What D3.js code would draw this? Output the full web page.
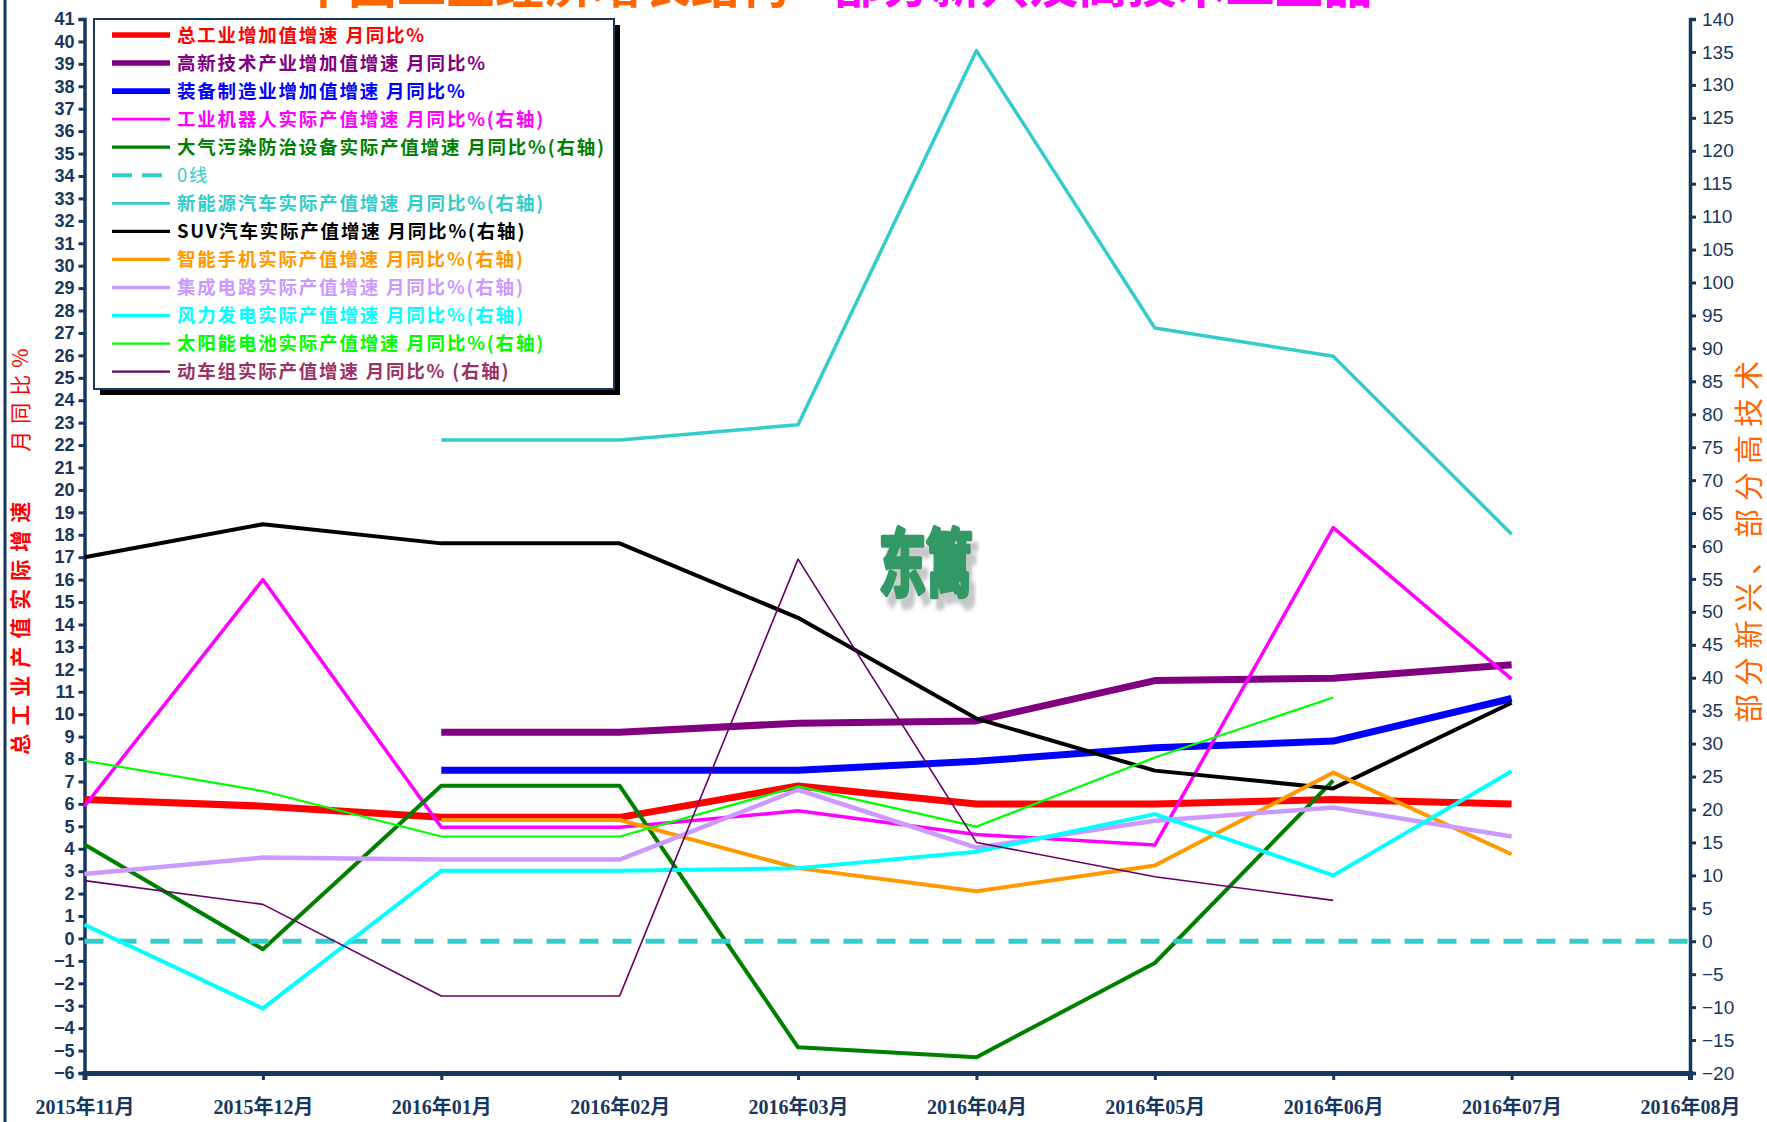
<!DOCTYPE html>
<html>
<head>
<meta charset="utf-8">
<script src="https://cdn.jsdelivr.net/npm/d3@7"></script>
<style>
  body { margin: 0; background: #fff; }
  svg { display: block; }
</style>
</head>
<body>
<div id="chart"></div>
<script>
/* categories and series (right-axis series are product output growth) */
const months = ['2015年11月', '2015年12月', '2016年01月', '2016年02月', '2016年03月',
  '2016年04月', '2016年05月', '2016年06月', '2016年07月', '2016年08月'];
const leftTicks = d3.range(-6, 42, 1);
const rightTicks = d3.range(-20, 145, 5);

const totalIndustry = [6.2, 5.9, 5.4, 5.4, 6.8, 6.0, 6.0, 6.2, 6.0];
const hiTech = [null, null, 9.2, 9.2, 9.6, 9.7, 11.5, 11.6, 12.2];
const equipment = [null, null, 7.5, 7.5, 7.5, 7.9, 8.5, 8.8, 10.7];
const robots = [20.5, 54.9, 17.3, 17.3, 19.8, 16.2, 14.6, 62.8, 39.8];
const airPollution = [14.7, -1.2, 23.6, 23.6, -16.1, -17.6, -3.3, 24.4];
const zeroLine = [0, 0, 0, 0, 0, 0, 0, 0, 0, 0];
const newEnergyCars = [null, null, 76.1, 76.1, 78.4, 135.2, 93.1, 88.8, 61.8];
const suv = [58.3, 63.3, 60.4, 60.4, 49.1, 33.8, 25.9, 23.2, 36.2];
const smartPhones = [null, null, 18.4, 18.4, 11.1, 7.6, 11.5, 25.6, 13.2];
const chips = [10.2, 12.7, 12.4, 12.4, 23.0, 14.2, 18.3, 20.3, 15.9];
const windPower = [2.5, -10.2, 10.7, 10.7, 11.1, 13.6, 19.3, 10.0, 25.8];
const solarCells = [27.4, 22.8, 15.9, 15.9, 23.5, 17.4, 27.9, 37.0];
const emu = [9.2, 5.6, -8.3, -8.3, 58.0, 15.0, 9.8, 6.2];

const series = [
  { name: '总工业增加值增速 月同比%', values: totalIndustry, axis: 'L', color: '#ff0000', width: 7, text: '#ff0000' },
  { name: '高新技术产业增加值增速 月同比%', values: hiTech, axis: 'L', color: '#800080', width: 7, text: '#800080' },
  { name: '装备制造业增加值增速 月同比%', values: equipment, axis: 'L', color: '#0000ff', width: 7, text: '#0000ff' },
  { name: '工业机器人实际产值增速 月同比%(右轴)', values: robots, axis: 'R', color: '#ff00ff', width: 3.5, text: '#ff00ff' },
  { name: '大气污染防治设备实际产值增速 月同比%(右轴)', values: airPollution, axis: 'R', color: '#008000', width: 4, text: '#008000' },
  { name: '0线', values: zeroLine, axis: 'R', color: '#33cccc', width: 5, text: '#33cccc', dash: '19,14', light: true },
  { name: '新能源汽车实际产值增速 月同比%(右轴)', values: newEnergyCars, axis: 'R', color: '#33cccc', width: 3.5, text: '#33cccc' },
  { name: 'SUV汽车实际产值增速 月同比%(右轴)', values: suv, axis: 'R', color: '#000000', width: 4, text: '#000000' },
  { name: '智能手机实际产值增速 月同比%(右轴)', values: smartPhones, axis: 'R', color: '#ff9900', width: 4, text: '#ff9900' },
  { name: '集成电路实际产值增速 月同比%(右轴)', values: chips, axis: 'R', color: '#cc99ff', width: 4.5, text: '#cc99ff' },
  { name: '风力发电实际产值增速 月同比%(右轴)', values: windPower, axis: 'R', color: '#00ffff', width: 4, text: '#00ffff' },
  { name: '太阳能电池实际产值增速 月同比%(右轴)', values: solarCells, axis: 'R', color: '#00ff00', width: 2.2, text: '#00ff00' },
  { name: '动车组实际产值增速 月同比% (右轴)', values: emu, axis: 'R', color: '#660066', width: 1.6, text: '#993366' }
];

const width = 1767;
const height = 1122;
const navy = '#17375e';
const plot = { left: 84.5, right: 1690, top: 19, bottom: 1073 };

const svg = d3.select('#chart').append('svg')
  .attr('width', width)
  .attr('height', height);

const defs = svg.append('defs');
defs.append('filter').attr('id', 'wmShadow')
  .attr('x', '-20%').attr('y', '-20%').attr('width', '140%').attr('height', '140%')
  .append('feDropShadow')
  .attr('dx', 6).attr('dy', 7).attr('stdDeviation', 1.5)
  .attr('flood-color', '#b0b0b0').attr('flood-opacity', 0.7);

const x = d3.scalePoint().domain(months).range([plot.left, plot.right]);
const yL = d3.scaleLinear().domain([-6, 41]).range([plot.bottom, plot.top]);
const yR = d3.scaleLinear().domain([-20, 140]).range([plot.bottom, plot.top]);

// left border of the picture
svg.append('line')
  .attr('x1', 5).attr('x2', 5).attr('y1', 0).attr('y2', height)
  .attr('stroke', navy).attr('stroke-width', 3);

// title, mostly cut off at the top
const title = svg.append('text')
  .attr('x', 299).attr('y', 3)
  .attr('font-family', '"Noto Sans CJK SC", sans-serif')
  .attr('font-weight', 'bold')
  .attr('font-size', 49);
title.append('tspan').attr('fill', '#ff6600').text('中国工业经济增长结构');
title.append('tspan').attr('fill', '#ff00ff').text('—部分新兴及高技术工业品');

// watermark
svg.append('g').attr('transform', 'translate(926, 590) scale(1, 1.55)')
  .append('text')
  .attr('text-anchor', 'middle')
  .attr('font-family', '"Noto Sans CJK SC", sans-serif')
  .attr('font-weight', 'bold').attr('font-size', 47)
  .attr('fill', '#339966').attr('stroke', '#339966').attr('stroke-width', 3)
  .attr('stroke-linejoin', 'round')
  .attr('filter', 'url(#wmShadow)')
  .text('东篱');

// axes
const axisL = svg.append('g')
  .attr('transform', `translate(${plot.left},0)`)
  .call(d3.axisLeft(yL).tickValues(leftTicks).tickSize(6).tickPadding(4).tickFormat(d3.format('d')));
axisL.selectAll('text')
  .attr('font-family', '"Liberation Sans Narrow", "Liberation Sans", Arial, sans-serif')
  .attr('font-weight', 'bold').attr('font-size', 18).attr('fill', navy);

const axisR = svg.append('g')
  .attr('transform', `translate(${plot.right},0)`)
  .call(d3.axisRight(yR).tickValues(rightTicks).tickSize(6).tickPadding(6).tickFormat(d3.format('d')));
axisR.selectAll('text')
  .attr('font-family', '"Liberation Sans Narrow", "Liberation Sans", Arial, sans-serif')
  .attr('font-size', 19).attr('fill', navy);

const axisB = svg.append('g')
  .attr('transform', `translate(0,${plot.bottom})`)
  .call(d3.axisBottom(x).tickSize(7).tickPadding(14));
axisB.selectAll('text')
  .attr('font-family', '"Liberation Serif", "Noto Sans CJK SC", serif')
  .attr('font-weight', 'bold').attr('font-size', 20).attr('fill', navy)
  .attr('dy', '1.0em');

[axisL, axisR, axisB].forEach(g => {
  g.select('.domain').attr('stroke', navy).attr('stroke-width', 3.5);
  g.selectAll('.tick line').attr('stroke', navy).attr('stroke-width', 3);
});
axisB.select('.domain').attr('stroke-width', 5);

// axis titles
const leftTitle = svg.append('text')
  .attr('transform', 'translate(28, 548) rotate(-90)')
  .attr('text-anchor', 'middle')
  .attr('font-family', '"Noto Sans CJK SC", sans-serif')
  .attr('fill', '#ff0000').attr('font-size', 21);
leftTitle.append('tspan').attr('font-weight', 'bold').attr('letter-spacing', 8).text('总工业产值实际增速');
leftTitle.append('tspan').attr('dx', 42).attr('letter-spacing', 7).text('月同比%');

svg.append('text')
  .attr('transform', 'translate(1752, 538) rotate(-90)')
  .attr('text-anchor', 'middle')
  .attr('dominant-baseline', 'middle')
  .attr('font-family', '"Noto Sans CJK SC", sans-serif')
  .attr('fill', '#ff6600').attr('font-size', 29).attr('letter-spacing', 8)
  .text('部分新兴、部分高技术');

// lines
const lineFor = s => d3.line()
  .defined(d => d != null)
  .x((d, i) => x(months[i]))
  .y(d => (s.axis === 'L' ? yL(d) : yR(d)));

svg.append('g').selectAll('path')
  .data(series)
  .join('path')
  .attr('d', s => lineFor(s)(s.values))
  .attr('fill', 'none')
  .attr('stroke', s => s.color)
  .attr('stroke-width', s => s.width)
  .attr('stroke-dasharray', s => s.dash || null)
  .attr('stroke-linejoin', 'round');

// legend
const legend = svg.append('g');
legend.append('rect')
  .attr('x', 100).attr('y', 25).attr('width', 520).attr('height', 370)
  .attr('fill', '#000');
legend.append('rect')
  .attr('x', 94).attr('y', 19).attr('width', 520).attr('height', 370)
  .attr('fill', '#fff').attr('stroke', navy).attr('stroke-width', 2);

const item = legend.selectAll('g.item')
  .data(series)
  .join('g')
  .attr('class', 'item')
  .attr('transform', (d, i) => `translate(0, ${35 + i * 28.05})`);

item.append('line')
  .attr('x1', 112).attr('x2', 170).attr('y1', 0).attr('y2', 0)
  .attr('stroke', d => d.color)
  .attr('stroke-width', d => Math.max(d.width * 0.8, 2.2))
  .attr('stroke-dasharray', d => d.dash ? '20,10' : null);

item.append('text')
  .attr('x', 177).attr('y', 0)
  .attr('dy', '0.36em')
  .attr('font-family', '"Noto Sans CJK SC", sans-serif')
  .attr('font-weight', d => d.light ? 'normal' : 'bold')
  .attr('font-size', 18.5)
  .attr('letter-spacing', 1.8)
  .attr('fill', d => d.text)
  .text(d => d.name);
</script>
</body>
</html>
